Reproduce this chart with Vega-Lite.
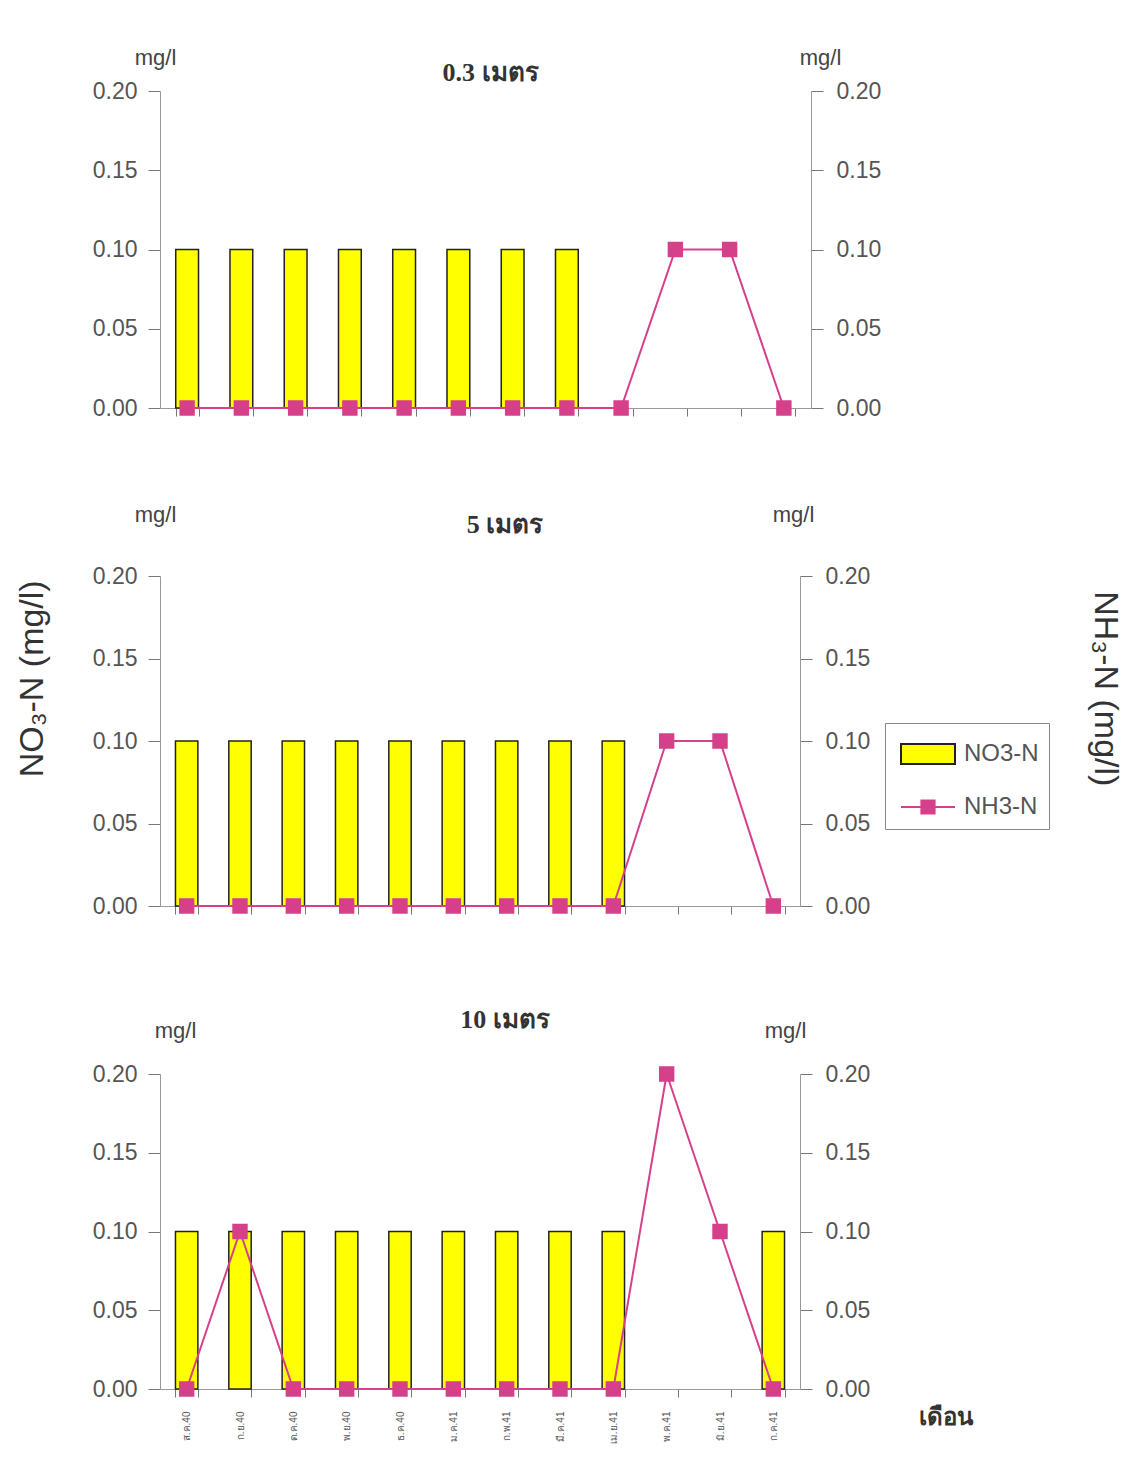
{
  "$schema": "https://vega.github.io/schema/vega-lite/v6.json",
  "padding": {"left": 16, "top": 46, "right": 5, "bottom": 5},
  "background": "white",
  "config": {
    "view": {"stroke": null},
    "font": "Liberation Sans",
    "axis": {"labelFont": "Liberation Sans", "titleFont": "Liberation Sans", "labelColor": "#555", "titleColor": "#444", "domainColor": "#999", "tickColor": "#777", "grid": false}
  },
  "title": {"text": "NO₃-N (mg/l)", "orient": "left", "anchor": "middle", "fontSize": 34, "font": "Liberation Sans", "fontWeight": "normal", "color": "#333", "offset": 42, "dx": 66},
  "datasets": {
    "d": [
      {"depth": "0.3", "month": "ส.ค.40", "no3": 0.1, "nh3": 0},
      {"depth": "0.3", "month": "ก.ย.40", "no3": 0.1, "nh3": 0},
      {"depth": "0.3", "month": "ต.ค.40", "no3": 0.1, "nh3": 0},
      {"depth": "0.3", "month": "พ.ย.40", "no3": 0.1, "nh3": 0},
      {"depth": "0.3", "month": "ธ.ค.40", "no3": 0.1, "nh3": 0},
      {"depth": "0.3", "month": "ม.ค.41", "no3": 0.1, "nh3": 0},
      {"depth": "0.3", "month": "ก.พ.41", "no3": 0.1, "nh3": 0},
      {"depth": "0.3", "month": "มี.ค.41", "no3": 0.1, "nh3": 0},
      {"depth": "0.3", "month": "เม.ย.41", "no3": null, "nh3": 0},
      {"depth": "0.3", "month": "พ.ค.41", "no3": null, "nh3": 0.1},
      {"depth": "0.3", "month": "มิ.ย.41", "no3": null, "nh3": 0.1},
      {"depth": "0.3", "month": "ก.ค.41", "no3": null, "nh3": 0},
      {"depth": "5", "month": "ส.ค.40", "no3": 0.1, "nh3": 0},
      {"depth": "5", "month": "ก.ย.40", "no3": 0.1, "nh3": 0},
      {"depth": "5", "month": "ต.ค.40", "no3": 0.1, "nh3": 0},
      {"depth": "5", "month": "พ.ย.40", "no3": 0.1, "nh3": 0},
      {"depth": "5", "month": "ธ.ค.40", "no3": 0.1, "nh3": 0},
      {"depth": "5", "month": "ม.ค.41", "no3": 0.1, "nh3": 0},
      {"depth": "5", "month": "ก.พ.41", "no3": 0.1, "nh3": 0},
      {"depth": "5", "month": "มี.ค.41", "no3": 0.1, "nh3": 0},
      {"depth": "5", "month": "เม.ย.41", "no3": 0.1, "nh3": 0},
      {"depth": "5", "month": "พ.ค.41", "no3": null, "nh3": 0.1},
      {"depth": "5", "month": "มิ.ย.41", "no3": null, "nh3": 0.1},
      {"depth": "5", "month": "ก.ค.41", "no3": null, "nh3": 0},
      {"depth": "10", "month": "ส.ค.40", "no3": 0.1, "nh3": 0},
      {"depth": "10", "month": "ก.ย.40", "no3": 0.1, "nh3": 0.1},
      {"depth": "10", "month": "ต.ค.40", "no3": 0.1, "nh3": 0},
      {"depth": "10", "month": "พ.ย.40", "no3": 0.1, "nh3": 0},
      {"depth": "10", "month": "ธ.ค.40", "no3": 0.1, "nh3": 0},
      {"depth": "10", "month": "ม.ค.41", "no3": 0.1, "nh3": 0},
      {"depth": "10", "month": "ก.พ.41", "no3": 0.1, "nh3": 0},
      {"depth": "10", "month": "มี.ค.41", "no3": 0.1, "nh3": 0},
      {"depth": "10", "month": "เม.ย.41", "no3": 0.1, "nh3": 0},
      {"depth": "10", "month": "พ.ค.41", "no3": null, "nh3": 0.2},
      {"depth": "10", "month": "มิ.ย.41", "no3": null, "nh3": 0.1},
      {"depth": "10", "month": "ก.ค.41", "no3": 0.1, "nh3": 0}
    ]
  },
  "data": {"name": "d"},
  "vconcat": [
    {
      "title": {"text": "NH₃-N (mg/l)", "orient": "right", "anchor": "middle", "fontSize": 34, "font": "Liberation Sans", "fontWeight": "normal", "color": "#333", "offset": 116, "dx": -56},
      "spacing": 168,
      "bounds": "flush",
      "vconcat": [
        {
          "title": {"text": "0.3 เมตร", "font": "Liberation Serif", "fontSize": 26, "fontWeight": "bold", "color": "#333", "offset": 0, "dy": 40, "dx": 5},
          "width": 651, "height": 317,
          "transform": [{"filter": "datum.depth === '0.3'"}],
          "layer": [
            {
              "mark": {"type": "bar", "strokeWidth": 1.5},
              "encoding": {
                "x": {"field": "month", "type": "ordinal", "sort": ["ส.ค.40","ก.ย.40","ต.ค.40","พ.ย.40","ธ.ค.40","ม.ค.41","ก.พ.41","มี.ค.41","เม.ย.41","พ.ค.41","มิ.ย.41","ก.ค.41"], "scale": {"paddingInner": 0.58, "paddingOuter": 0.29}, "axis": {"labels": false, "title": null, "tickBand": "extent", "tickSize": 8}},
                "y": {"field": "no3", "type": "quantitative", "scale": {"domain": [0, 0.2]}, "axis": {"orient": "left", "values": [0, 0.05, 0.1, 0.15, 0.2], "format": ".2f", "labelFontSize": 23, "tickSize": 12, "labelPadding": 11, "title": "mg/l", "titleAngle": 0, "titleAlign": "center", "titleBaseline": "middle", "titleX": -5, "titleY": -34, "titleFontSize": 22, "titleFontWeight": "normal"}},
                "color": {
                  "datum": "NO3-N", "type": "nominal",
                  "scale": {"domain": ["NO3-N", "NH3-N"], "range": ["#FFFF00", "#D6408A"]},
                  "legend": {
                    "title": null, "orient": "none", "legendX": 725, "legendY": 632,
                    "symbolType": {"expr": "datum.value === 'NO3-N' ? 'M-1.35,-0.5H1.35V0.5H-1.35Z' : 'M-1.35,0H1.35M-0.33,-0.33H0.33V0.33H-0.33Z'"},
                    "symbolStrokeWidth": 2,
                    "symbolSize": 1600, "symbolOffset": 12, "labelFontSize": 24, "labelColor": "#555", "labelFont": "Liberation Sans", "labelOffset": 15,
                    "rowPadding": 18, "padding": 10, "strokeColor": "#888", "fillColor": "white"
                  }
                },
                "stroke": {"datum": "NO3-N", "type": "nominal", "scale": {"domain": ["NO3-N", "NH3-N"], "range": ["#222222", "#D6408A"]}}
              }
            },
            {
              "mark": {"type": "line", "strokeWidth": 2, "point": {"shape": "square", "size": 180, "filled": true}},
              "encoding": {
                "x": {"field": "month", "type": "ordinal", "sort": ["ส.ค.40","ก.ย.40","ต.ค.40","พ.ย.40","ธ.ค.40","ม.ค.41","ก.พ.41","มี.ค.41","เม.ย.41","พ.ค.41","มิ.ย.41","ก.ค.41"]},
                "y": {"field": "nh3", "type": "quantitative", "scale": {"domain": [0, 0.2]}, "axis": {"orient": "right", "values": [0, 0.05, 0.1, 0.15, 0.2], "format": ".2f", "labelFontSize": 23, "tickSize": 12, "labelPadding": 13, "title": "mg/l", "titleAngle": 0, "titleAlign": "center", "titleBaseline": "middle", "titleX": 9, "titleY": -34, "titleFontSize": 22, "titleFontWeight": "normal"}},
                "color": {"datum": "NH3-N", "type": "nominal"},
                "stroke": {"datum": "NH3-N", "type": "nominal"}
              }
            }
          ],
          "resolve": {"scale": {"y": "independent"}}
        },
        {
          "title": {"text": "5 เมตร", "font": "Liberation Serif", "fontSize": 26, "fontWeight": "bold", "color": "#333", "offset": 0, "dy": 35, "dx": 25},
          "width": 640, "height": 330,
          "transform": [{"filter": "datum.depth === '5'"}],
          "layer": [
            {
              "mark": {"type": "bar", "strokeWidth": 1.5},
              "encoding": {
                "x": {"field": "month", "type": "ordinal", "sort": ["ส.ค.40","ก.ย.40","ต.ค.40","พ.ย.40","ธ.ค.40","ม.ค.41","ก.พ.41","มี.ค.41","เม.ย.41","พ.ค.41","มิ.ย.41","ก.ค.41"], "scale": {"paddingInner": 0.58, "paddingOuter": 0.29}, "axis": {"labels": false, "title": null, "tickBand": "extent", "tickSize": 8}},
                "y": {"field": "no3", "type": "quantitative", "scale": {"domain": [0, 0.2]}, "axis": {"orient": "left", "values": [0, 0.05, 0.1, 0.15, 0.2], "format": ".2f", "labelFontSize": 23, "tickSize": 12, "labelPadding": 11, "title": "mg/l", "titleAngle": 0, "titleAlign": "center", "titleBaseline": "middle", "titleX": -5, "titleY": -62, "titleFontSize": 22, "titleFontWeight": "normal"}},
                "color": {"datum": "NO3-N", "type": "nominal"},
                "stroke": {"datum": "NO3-N", "type": "nominal"}
              }
            },
            {
              "mark": {"type": "line", "strokeWidth": 2, "point": {"shape": "square", "size": 180, "filled": true}},
              "encoding": {
                "x": {"field": "month", "type": "ordinal", "sort": ["ส.ค.40","ก.ย.40","ต.ค.40","พ.ย.40","ธ.ค.40","ม.ค.41","ก.พ.41","มี.ค.41","เม.ย.41","พ.ค.41","มิ.ย.41","ก.ค.41"]},
                "y": {"field": "nh3", "type": "quantitative", "scale": {"domain": [0, 0.2]}, "axis": {"orient": "right", "values": [0, 0.05, 0.1, 0.15, 0.2], "format": ".2f", "labelFontSize": 23, "tickSize": 12, "labelPadding": 13, "title": "mg/l", "titleAngle": 0, "titleAlign": "center", "titleBaseline": "middle", "titleX": -7, "titleY": -62, "titleFontSize": 22, "titleFontWeight": "normal"}},
                "color": {"datum": "NH3-N", "type": "nominal"},
                "stroke": {"datum": "NH3-N", "type": "nominal"}
              }
            }
          ],
          "resolve": {"scale": {"y": "independent"}}
        },
        {
          "title": {"text": "10 เมตร", "font": "Liberation Serif", "fontSize": 26, "fontWeight": "bold", "color": "#333", "offset": 0, "dy": 14, "dx": 25},
          "width": 640, "height": 315,
          "transform": [{"filter": "datum.depth === '10'"}],
          "layer": [
            {
              "mark": {"type": "bar", "strokeWidth": 1.5},
              "encoding": {
                "x": {"field": "month", "type": "ordinal", "sort": ["ส.ค.40","ก.ย.40","ต.ค.40","พ.ย.40","ธ.ค.40","ม.ค.41","ก.พ.41","มี.ค.41","เม.ย.41","พ.ค.41","มิ.ย.41","ก.ค.41"], "scale": {"paddingInner": 0.58, "paddingOuter": 0.29}, "axis": {"labels": true, "labelAngle": 270, "labelFontSize": 10, "labelPadding": 14, "title": "เดือน", "titleX": 785, "titleY": 28, "titleAlign": "center", "titleBaseline": "middle", "titleFont": "Liberation Serif", "titleFontSize": 24, "titleFontWeight": "bold", "titleColor": "#333", "tickBand": "extent", "tickSize": 8}},
                "y": {"field": "no3", "type": "quantitative", "scale": {"domain": [0, 0.2]}, "axis": {"orient": "left", "values": [0, 0.05, 0.1, 0.15, 0.2], "format": ".2f", "labelFontSize": 23, "tickSize": 12, "labelPadding": 11, "title": "mg/l", "titleAngle": 0, "titleAlign": "center", "titleBaseline": "middle", "titleX": 15, "titleY": -44, "titleFontSize": 22, "titleFontWeight": "normal"}},
                "color": {"datum": "NO3-N", "type": "nominal"},
                "stroke": {"datum": "NO3-N", "type": "nominal"}
              }
            },
            {
              "mark": {"type": "line", "strokeWidth": 2, "point": {"shape": "square", "size": 180, "filled": true}},
              "encoding": {
                "x": {"field": "month", "type": "ordinal", "sort": ["ส.ค.40","ก.ย.40","ต.ค.40","พ.ย.40","ธ.ค.40","ม.ค.41","ก.พ.41","มี.ค.41","เม.ย.41","พ.ค.41","มิ.ย.41","ก.ค.41"]},
                "y": {"field": "nh3", "type": "quantitative", "scale": {"domain": [0, 0.2]}, "axis": {"orient": "right", "values": [0, 0.05, 0.1, 0.15, 0.2], "format": ".2f", "labelFontSize": 23, "tickSize": 12, "labelPadding": 13, "title": "mg/l", "titleAngle": 0, "titleAlign": "center", "titleBaseline": "middle", "titleX": -15, "titleY": -44, "titleFontSize": 22, "titleFontWeight": "normal"}},
                "color": {"datum": "NH3-N", "type": "nominal"},
                "stroke": {"datum": "NH3-N", "type": "nominal"}
              }
            }
          ],
          "resolve": {"scale": {"y": "independent"}}
        }
      ]
    }
  ]
}
